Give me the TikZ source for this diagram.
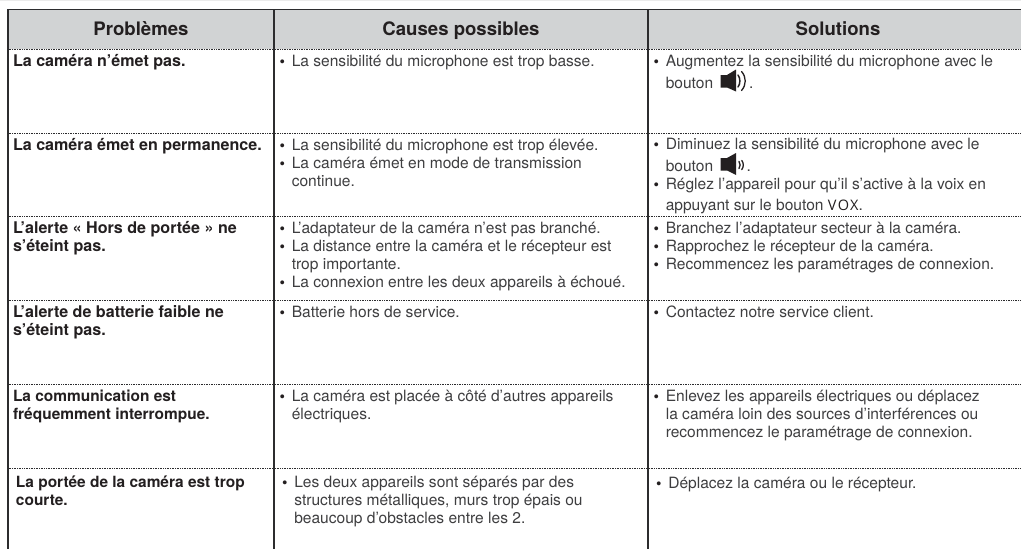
\documentclass[tikz,border=0pt]{standalone}
\usepackage{fontspec}
\setmainfont{TeX Gyre Heros}
\newfontfamily\voxfont[LetterSpace=10]{Open Sans}
\definecolor{headfill}{HTML}{D1D3D4}
\definecolor{rulecol}{HTML}{2C2C2E}
\definecolor{txt}{HTML}{3E3E40}
\definecolor{txtb}{HTML}{231F20}
\newcommand{\puce}{\makebox[12.3pt][l]{\color{txtb}\bfseries •}}
\tikzset{
  x=1pt,y=-1pt,
  cell/.style={anchor=base west,inner sep=0pt,outer sep=0pt,text=txt,font=\fontsize{15.55}{18}\selectfont},
  prob/.style={anchor=base west,inner sep=0pt,outer sep=0pt,text=txtb,font=\fontsize{16.1}{18}\selectfont\bfseries},
  probn/.style={prob,font=\fontsize{15.45}{18}\selectfont\bfseries},
  head/.style={anchor=base,inner sep=0pt,outer sep=0pt,text=txtb,font=\fontsize{18.6}{20}\selectfont\bfseries},
  vrule/.style={draw=rulecol,line width=1.2pt},
  drule/.style={draw=rulecol,line width=.8pt,dash pattern=on .8pt off .9pt},
  speaker/.style={fill=txtb,draw=none},
  wave/.style={draw=txtb,line cap=round}
}
\begin{document}
\begin{tikzpicture}
\useasboundingbox (0,0) rectangle (1021,549);
\fill[white] (0,0) rectangle (1021,549);
\fill[black!8] (0,0) rectangle (1021,1);
\fill[headfill] (8,9) rectangle (1021,49);
\draw[vrule] (8,9.5) -- (1021,9.5);
\draw[vrule] (8,9) -- (8,549);
\draw[vrule] (274,9) -- (274,549);
\draw[vrule] (648,9) -- (648,549);
\foreach \yy in {49,133,216,300.5,384,468}{
  \draw[drule] (8.5,\yy) -- (273,\yy);
  \draw[drule] (275,\yy) -- (647,\yy);
  \draw[drule] (649,\yy) -- (1021,\yy);
}
\node[head] (h1) at (141,35) {Problèmes};
\node[head] (h2) at (461,35) {Causes possibles};
\node[head] (h3) at (838,35) {Solutions};
% problems
\node[prob] (p1) at (13,66) {La caméra n’émet pas.};
\node[prob] (p2) at (13,150) {La caméra émet en permanence.};
\node[prob] (p3a) at (13,233) {L’alerte « Hors de portée » ne};
\node[prob] (p3b) at (13,251) {s’éteint pas.};
\node[prob] (p4a) at (13,317.5) {L’alerte de batterie faible ne};
\node[prob] (p4b) at (13,335.5) {s’éteint pas.};
\node[probn] (p5a) at (13,401) {La communication est};
\node[probn] (p5b) at (13,419) {fréquemment interrompue.};
\node[probn] (p6a) at (16,487) {La portée de la caméra est trop};
\node[probn] (p6b) at (16,505) {courte.};
% causes
\node[cell] (c1) at (279.5,66) {\puce La sensibilité du microphone est trop basse.};
\node[cell] (c2a) at (279.5,150) {\puce La sensibilité du microphone est trop élevée.};
\node[cell] (c2b) at (279.5,168) {\puce La caméra émet en mode de transmission};
\node[cell] (c2c) at (291.8,186.5) {continue.};
\node[cell] (c3a) at (279.5,233) {\puce L’adaptateur de la caméra n’est pas branché.};
\node[cell] (c3b) at (279.5,251) {\puce La distance entre la caméra et le récepteur est};
\node[cell] (c3c) at (291.8,269.5) {trop importante.};
\node[cell] (c3d) at (279.5,287) {\puce La connexion entre les deux appareils à échoué.};
\node[cell] (c4) at (279.5,317.5) {\puce Batterie hors de service.};
\node[cell] (c5a) at (279.5,401) {\puce La caméra est placée à côté d’autres appareils};
\node[cell] (c5b) at (291.8,419) {électriques.};
\node[cell] (c6a) at (282,487) {\puce Les deux appareils sont séparés par des};
\node[cell] (c6b) at (294.3,505) {structures métalliques, murs trop épais ou};
\node[cell] (c6c) at (294.3,523) {beaucoup d’obstacles entre les 2.};
% solutions
\node[cell] (s1a) at (653.5,66) {\puce Augmentez la sensibilité du microphone avec le};
\node[cell] (s1b) at (665.8,88) {bouton};
\node[cell] (s1c) at (749,88) {.};
\node[cell] (s2a) at (653.5,149.5) {\puce Diminuez la sensibilité du microphone avec le};
\node[cell] (s2b) at (665.8,171) {bouton};
\node[cell] (s2c) at (746.5,171) {.};
\node[cell] (s2d) at (653.5,189) {\puce Réglez l’appareil pour qu’il s’active à la voix en};
\node[cell] (s2e) at (665.8,210.5) {appuyant sur le bouton {\voxfont\fontsize{14.5}{18}\selectfont\color{txtb}VOX}.};
\node[cell] (s3a) at (653.5,233) {\puce Branchez l’adaptateur secteur à la caméra.};
\node[cell] (s3b) at (653.5,251) {\puce Rapprochez le récepteur de la caméra.};
\node[cell] (s3c) at (653.5,269.5) {\puce Recommencez les paramétrages de connexion.};
\node[cell] (s4) at (653.5,317.5) {\puce Contactez notre service client.};
\node[cell] (s5a) at (653.5,401) {\puce Enlevez les appareils électriques ou déplacez};
\node[cell] (s5b) at (665.8,419) {la caméra loin des sources d’interférences ou};
\node[cell] (s5c) at (665.8,437) {recommencez le paramétrage de connexion.};
\node[cell] (s6) at (656,488) {\puce Déplacez la caméra ou le récepteur.};
% speaker icons
\fill[speaker] (720.5,75) -- (727,75) -- (736,69.5) -- (736,91.5) -- (727,87.5) -- (720.5,87.5) -- cycle;
\draw[wave,line width=1.5pt] (738,75) .. controls (740.5,78) and (740.5,84) .. (738,87);
\draw[wave,line width=1.3pt] (741.5,71.5) .. controls (746.5,77) and (746.5,85) .. (741.5,90.5);
\fill[speaker] (720.5,158) -- (727,158) -- (736,153) -- (736,175) -- (727,170.5) -- (720.5,170.5) -- cycle;
\draw[wave,line width=1.3pt] (739,161.5) .. controls (740.5,163.5) and (740.5,166.5) .. (739,168.5);
\draw[wave,line width=1.3pt] (741.8,160.5) .. controls (743.8,163) and (743.8,167) .. (741.8,169.5);
\end{tikzpicture}
\end{document}
